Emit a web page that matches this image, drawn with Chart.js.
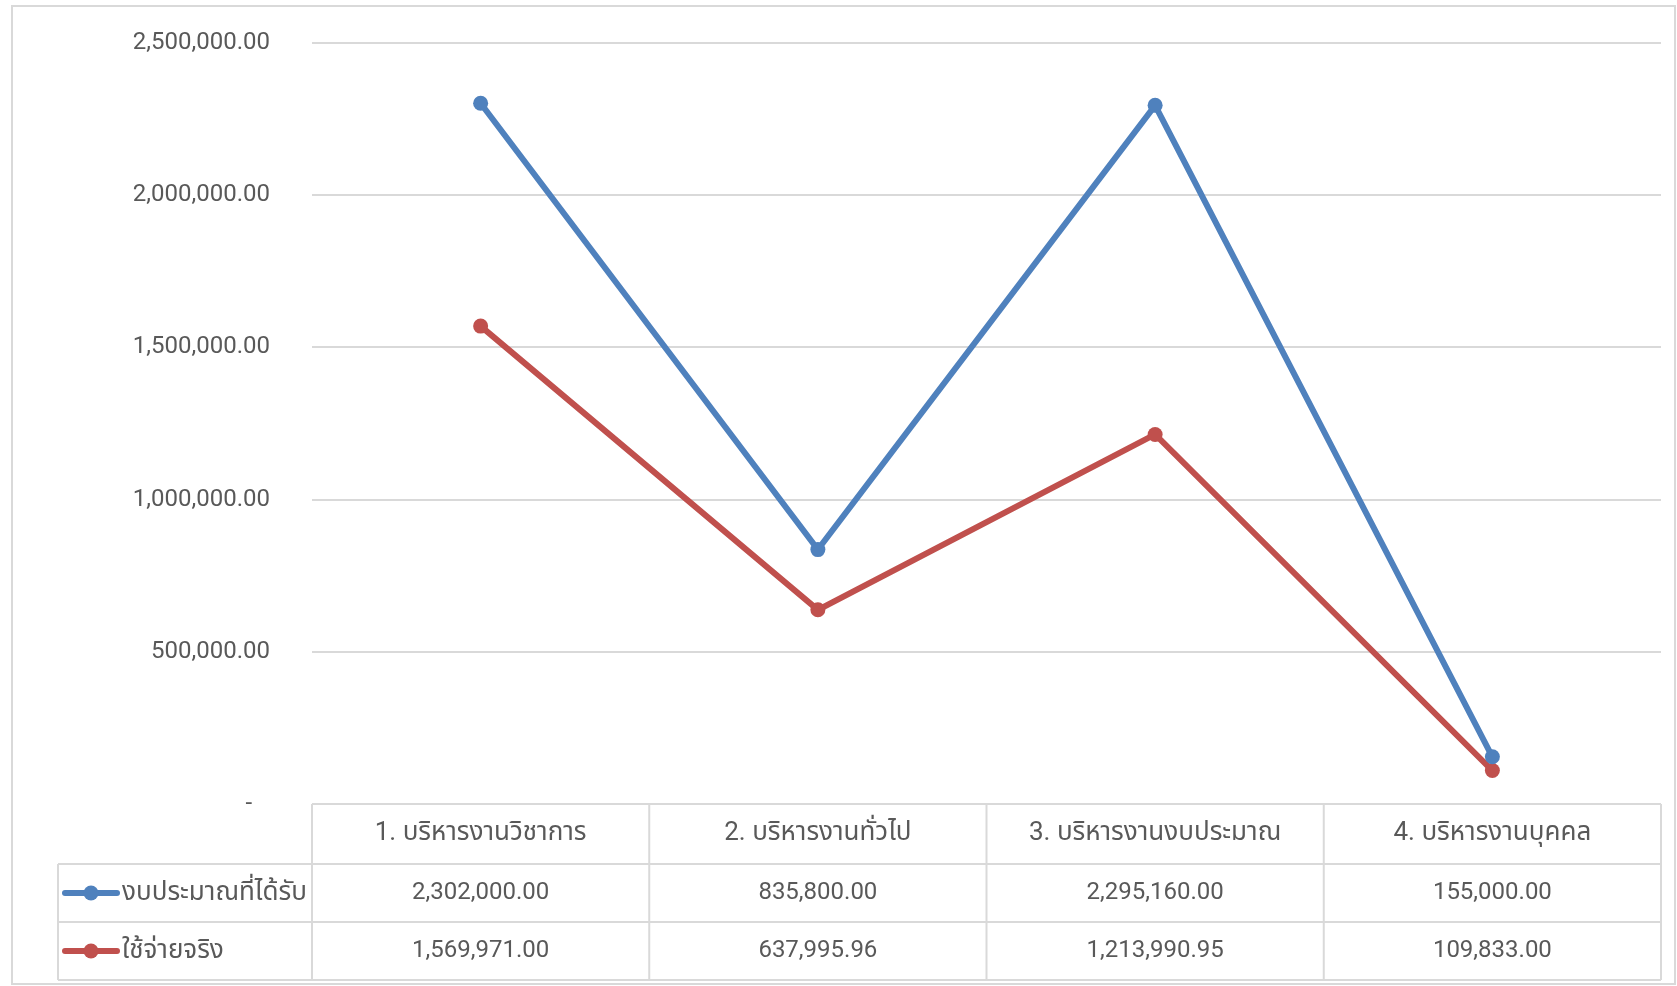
<!DOCTYPE html>
<html>
<head>
<meta charset="utf-8">
<script src="https://cdn.jsdelivr.net/npm/chart.js@4"></script>
<style>
  body { margin: 0; background: #fff; }
  #wrap { width: 1677px; height: 986px; position: relative; }
</style>
</head>
<body>
<div id="wrap"><canvas id="myChart"></canvas></div>
<script>
var categories = ["1. บริหารงานวิชาการ", "2. บริหารงานทั่วไป", "3. บริหารงานงบประมาณ", "4. บริหารงานบุคคล"];
var budgetLabel = "งบประมาณที่ได้รับ";
var spentLabel = "ใช้จ่ายจริง";
var budget = [2302000, 835800, 2295160, 155000];
var spent = [1569971, 637995.96, 1213990.95, 109833];
var yMax = 2500000;
var yStep = 500000;

var fontFamily = "Roboto, 'Noto Sans Thai', sans-serif";
var numSize = 24;   // numbers
var thaiSize = 26;  // thai labels
var textColor = "#595959";
var lineGray = "#d9d9d9";

function fmt(v) {
  return v.toLocaleString("en-US", { minimumFractionDigits: 2, maximumFractionDigits: 2 });
}

// draws the outer frame and the data table under the plot
var tablePlugin = {
  id: "dataTable",
  beforeDraw: function (chart) {
    var ctx = chart.ctx;
    ctx.save();
    ctx.fillStyle = "#fff";
    ctx.fillRect(0, 0, chart.width, chart.height);
    ctx.strokeStyle = lineGray;
    ctx.lineWidth = 2;
    ctx.strokeRect(12, 6, chart.width - 14, chart.height - 8);
    ctx.restore();
  },
  afterDraw: function (chart) {
    var ctx = chart.ctx;
    var area = chart.chartArea;
    var xs = chart.scales.x;
    var half = (area.right - area.left) / categories.length / 2;
    var top = area.bottom;
    var rows = [top, top + 60, top + 118, top + 176];
    var legLeft = 58;

    ctx.save();
    ctx.strokeStyle = lineGray;
    ctx.lineWidth = 2;
    ctx.beginPath();
    ctx.moveTo(area.left, rows[0]); ctx.lineTo(area.right, rows[0]);
    for (var r = 1; r < rows.length; r++) {
      ctx.moveTo(legLeft, rows[r]); ctx.lineTo(area.right, rows[r]);
    }
    ctx.moveTo(legLeft, rows[1]); ctx.lineTo(legLeft, rows[3]);
    for (var i = 0; i < categories.length; i++) {
      var cx = xs.getPixelForValue(i);
      ctx.moveTo(cx - half, rows[0]); ctx.lineTo(cx - half, rows[3]);
    }
    ctx.moveTo(area.right, rows[0]); ctx.lineTo(area.right, rows[3]);
    ctx.stroke();

    ctx.fillStyle = textColor;
    ctx.textAlign = "center";
    ctx.textBaseline = "middle";
    for (var j = 0; j < categories.length; j++) {
      var px = xs.getPixelForValue(j);
      ctx.font = thaiSize + "px " + fontFamily;
      ctx.fillText(categories[j], px, (rows[0] + rows[1]) / 2 - 1);
      ctx.font = numSize + "px " + fontFamily;
      ctx.fillText(fmt(budget[j]), px, (rows[1] + rows[2]) / 2);
      ctx.fillText(fmt(spent[j]), px, (rows[2] + rows[3]) / 2);
    }

    // legend keys
    var sets = chart.data.datasets;
    ctx.font = thaiSize + "px " + fontFamily;
    for (var k = 0; k < sets.length; k++) {
      var my = (rows[k + 1] + rows[k + 2]) / 2;
      ctx.strokeStyle = sets[k].borderColor;
      ctx.fillStyle = sets[k].borderColor;
      ctx.lineWidth = 6;
      ctx.lineCap = "round";
      ctx.beginPath();
      ctx.moveTo(65, my); ctx.lineTo(117, my);
      ctx.stroke();
      ctx.beginPath();
      ctx.arc(91, my, 7.5, 0, Math.PI * 2);
      ctx.fill();
      ctx.fillStyle = textColor;
      ctx.textAlign = "left";
      ctx.fillText(sets[k].label, 122, my);
    }
    ctx.restore();
  }
};

var ctx = document.getElementById("myChart").getContext("2d");
var myChart = new Chart(ctx, {
  type: "line",
  data: {
    labels: categories,
    datasets: [
      {
        label: budgetLabel,
        data: budget,
        borderColor: "#4f81bd",
        backgroundColor: "#4f81bd",
        borderWidth: 6,
        pointRadius: 7.5,
        pointBorderWidth: 0,
        tension: 0,
      },
      {
        label: spentLabel,
        data: spent,
        borderColor: "#c0504d",
        backgroundColor: "#c0504d",
        borderWidth: 6,
        pointRadius: 7.5,
        pointBorderWidth: 0,
        tension: 0,
      },
    ],
  },
  options: {
    responsive: true,
    maintainAspectRatio: false,
    animation: false,
    layout: { padding: { top: 43, right: 16, left: 0, bottom: 0 } },
    plugins: {
      legend: { display: false },
      tooltip: { enabled: false },
    },
    scales: {
      x: {
        offset: true,
        grid: { display: false, drawTicks: false },
        border: { display: false },
        ticks: { display: false },
        afterFit: function (scale) {
          scale.height = 182;
          scale.paddingLeft = 0;
          scale.paddingRight = 0;
        },
      },
      y: {
        min: 0,
        max: yMax,
        grid: { color: lineGray, lineWidth: 2, drawTicks: false },
        border: { display: false },
        ticks: {
          stepSize: yStep,
          padding: 42,
          color: textColor,
          font: { family: fontFamily, size: numSize },
          callback: function (v) { return v === 0 ? "-   " : fmt(v); },
        },
        afterFit: function (scale) {
          scale.width = 312;
          scale.paddingTop = 0;
          scale.paddingBottom = 0;
        },
      },
    },
  },
  plugins: [tablePlugin],
});
</script>
</body>
</html>
